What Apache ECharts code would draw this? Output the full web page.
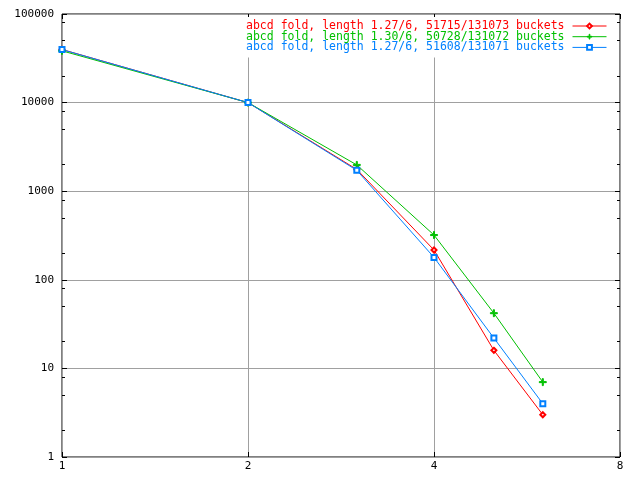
<!DOCTYPE html>
<html><head><meta charset="utf-8">
<script src="https://cdn.jsdelivr.net/npm/echarts@6/dist/echarts.min.js"></script>
<style>html,body{margin:0;padding:0;background:#fff}#c{width:640px;height:480px}</style>
</head><body><div id="c"></div>
<script>
const xValues = [1, 2, 3, 4, 5, 6];
const seriesNames = [
  'abcd fold, length 1.27/6, 51715/131073 buckets',
  'abcd fold, length 1.30/6, 50728/131072 buckets',
  'abcd fold, length 1.27/6, 51608/131071 buckets'
];
const redValues = [39720, 10000, 1760, 217, 16, 3];
const greenValues = [38400, 10000, 1980, 320, 42, 7];
const blueValues = [39680, 10000, 1720, 179, 22, 4];
const xTickLabels = [1, 2, 4, 8];
const yTickLabels = [1, 10, 100, 1000, 10000, 100000];
const yMinorTicks = [2, 5, 8, 20, 50, 80, 200, 500, 800, 2000, 5000, 8000, 20000, 50000, 80000];
const colors = ['#ff0000', '#00c000', '#0080ff'];

const FONT = 'DejaVu Sans Mono';
const plusPath = 'path://M4.25,0H5.75V4.25H10V5.75H5.75V10H4.25V5.75H0V4.25H4.25Z';
const symbols = ['emptyDiamond', plusPath, 'emptyRect'];
const symbolSizes = [5, 7, 5];
const allValues = [redValues, greenValues, blueValues];

function pairs(vals) { return xValues.map((x, i) => [x, vals[i]]); }

const chart = echarts.init(document.getElementById('c'), null, {renderer: 'canvas'});

const tickLine = {color: '#000', width: 1};
function xAx(pos, labels, split) {
  return {
    type: 'log', logBase: 2, min: xTickLabels[0], max: xTickLabels[xTickLabels.length - 1],
    position: pos,
    axisLine: {show: false},
    axisTick: {show: true, inside: true, length: 5, lineStyle: tickLine},
    axisLabel: {show: labels, color: '#000', fontFamily: FONT, fontSize: 11, margin: 4,
      formatter: v => String(Math.round(v))},
    splitLine: {show: split, lineStyle: {color: '#a0a0a0', width: 1}},
    minorTick: {show: false}
  };
}
function yAx(pos, labels, split, minor) {
  const ax = {
    type: 'log', logBase: 10, min: yTickLabels[0], max: yTickLabels[yTickLabels.length - 1],
    position: pos,
    axisLine: {show: false},
    axisTick: {show: true, inside: true, length: minor ? 3 : 5, lineStyle: tickLine},
    axisLabel: {show: labels, color: '#000', fontFamily: FONT, fontSize: 11, margin: 8,
      formatter: v => String(Math.round(v))},
    splitLine: {show: split, lineStyle: {color: '#a0a0a0', width: 1}}
  };
  if (minor) ax.axisTick.customValues = yMinorTicks;
  return ax;
}

chart.setOption({
  animation: false,
  backgroundColor: '#fff',
  grid: {left: 62, right: 20, top: 14, bottom: 23, show: true, borderColor: '#000', borderWidth: 1,
    backgroundColor: 'transparent', containLabel: false, outerBoundsMode: 'none'},
  legend: {
    show: true, orient: 'vertical', align: 'right', right: 28, top: 17,
    backgroundColor: '#fff', padding: [3, 5, 4, 5], itemGap: -1.3,
    itemWidth: 34, itemHeight: 6, selectedMode: false,
    lineStyle: {width: 1},
    itemStyle: {borderWidth: 1},
    textStyle: {fontFamily: FONT, fontSize: 11.5, padding: [0, 3, 0, 0]},
    data: seriesNames.map((n, i) => ({name: n, textStyle: {color: colors[i]}}))
  },
  xAxis: [xAx('bottom', true, true), xAx('top', false, false)],
  yAxis: [yAx('left', true, true, false), yAx('right', false, false, false),
          yAx('left', false, false, true), yAx('right', false, false, true)],
  series: seriesNames.map((n, i) => ({
    name: n, type: 'line', xAxisIndex: 0, yAxisIndex: 0,
    data: pairs(allValues[i]),
    symbol: symbols[i], symbolSize: symbolSizes[i], showAllSymbol: true,
    lineStyle: {color: colors[i], width: 1},
    itemStyle: {color: colors[i], borderColor: colors[i], borderWidth: 1},
    emphasis: {disabled: true}
  }))
});
</script></body></html>
